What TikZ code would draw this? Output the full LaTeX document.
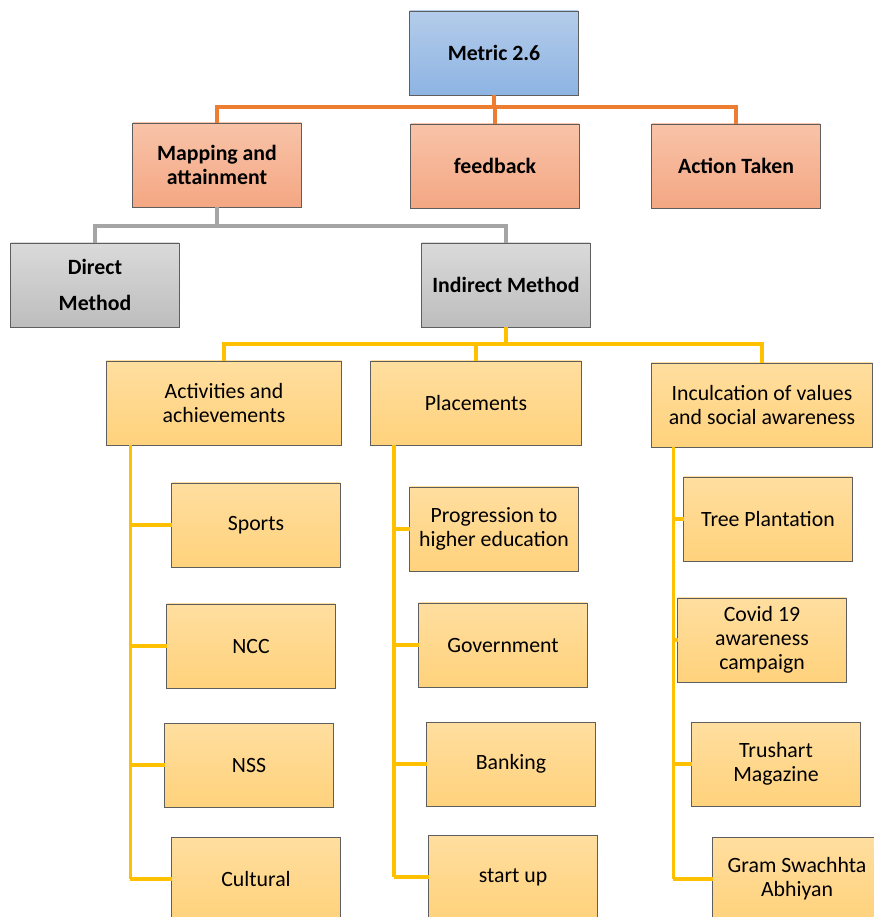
\documentclass[tikz,border=0pt]{standalone}
\usepackage{fontspec}
\setmainfont{Carlito}

\definecolor{boxline}{HTML}{5E5E5E}
\definecolor{bluetop}{HTML}{B4CCEA}
\definecolor{bluebot}{HTML}{8DB4E3}
\definecolor{salmontop}{HTML}{F8C3A8}
\definecolor{salmonbot}{HTML}{F4A783}
\definecolor{graytop}{HTML}{DADADA}
\definecolor{graybot}{HTML}{BDBDBD}
\definecolor{yellowtop}{HTML}{FFDE9F}
\definecolor{yellowbot}{HTML}{FFD27C}
\definecolor{orangeln}{HTML}{ED7D31}
\definecolor{grayln}{HTML}{A5A5A5}
\definecolor{yellowln}{HTML}{FFC000}

\tikzset{
  box/.style={draw=boxline, line width=0.7pt, minimum width=4.2cm, minimum height=2.1cm,
    inner sep=0pt, outer sep=0pt, align=center, font=\fontsize{15.5}{17}\selectfont},
  metricbox/.style={box, top color=bluetop, bottom color=bluebot, font=\fontsize{15.5}{17}\selectfont\bfseries},
  levelbox/.style={box, top color=salmontop, bottom color=salmonbot, font=\fontsize{15.5}{17}\selectfont\bfseries},
  methodbox/.style={box, top color=graytop, bottom color=graybot, font=\fontsize{15.5}{17}\selectfont\bfseries},
  itembox/.style={box, top color=yellowtop, bottom color=yellowbot},
  oline/.style={orangeln, line width=2.2pt},
  gline/.style={grayln, line width=2.2pt},
  yline/.style={yellowln, line width=2.2pt}
}

\begin{document}
\begin{tikzpicture}[x=0.025cm, y=-0.025cm]
    \clip (0,0) rectangle (874,917);

    % Top of the tree
    \node[metricbox] (metric) at (494,53) {Metric 2.6};
    \node[levelbox] (map) at (217,165) {Mapping and\\attainment};
    \node[levelbox] (feedback) at (495,166) {feedback};
    \node[levelbox] (action) at (736,166) {Action Taken};

    \node[methodbox] (direct) at (95,285) {Direct\\[9pt]Method};
    \node[methodbox] (indirect) at (506,285) {Indirect Method};

    % Three groups under the indirect method
    \node[itembox, minimum width=5.875cm] (act) at (224,403) {Activities and\\achievements};
    \node[itembox, minimum width=5.25cm] (place) at (476,403) {Placements};
    \node[itembox, minimum width=5.525cm] (incul) at (762,405) {Inculcation of values\\and social awareness};

    % Items of each group
    \foreach \name/\x/\y/\txt in {sports/256/525/Sports, ncc/251/646/NCC,
        nss/249/765/NSS, cultural/256/879/Cultural}
      \node[itembox] (\name) at (\x,\y) {\txt};

    \foreach \name/\x/\y/\txt in {progress/494/529/{Progression to\\higher education},
        govt/503/645/Government, banking/511/764/Banking, startup/513/877/start up}
      \node[itembox] (\name) at (\x,\y) {\txt};

    \foreach \name/\x/\y/\txt in {tree/768/519/Tree Plantation,
        covid/762/640/{Covid 19\\awareness\\campaign}, trushart/776/764/{Trushart\\Magazine},
        gram/797/879/{Gram Swachhta\\Abhiyan}}
      \node[itembox] (\name) at (\x,\y) {\txt};

    % Draw the connectors
    \draw[oline] (metric.south) -- ++(0,12) coordinate (otop) -| (map.north);
    \draw[oline] (otop) -| (feedback.north);
    \draw[oline] (otop) -| (action.north);

    \draw[gline] (map.south) -- ++(0,19) coordinate (gtop) -| (direct.north);
    \draw[gline] (gtop) -| (indirect.north);

    \draw[yline] (indirect.south) -- ++(0,17) coordinate (ytop) -| (act.north);
    \draw[yline] (ytop) -| (place.north);
    \draw[yline] (ytop) -| (incul.north);

    \path (act.south west) ++(24,0) coordinate (actstem);
    \path (place.south west) ++(23,0) coordinate (placestem);
    \path (incul.south west) ++(22,0) coordinate (inculstem);

    \draw[yline] (actstem) -- (actstem |- cultural.west);
    \draw[yline] (placestem) -- (placestem |- startup.west);
    \draw[yline] (inculstem) -- (inculstem |- gram.west);

    \foreach \name in {sports, ncc, nss, cultural}
      \draw[yline] (actstem |- \name.west) -- (\name.west);
    \foreach \name in {progress, govt, banking, startup}
      \draw[yline] (placestem |- \name.west) -- (\name.west);
    \foreach \name in {tree, covid, trushart, gram}
      \draw[yline] (inculstem |- \name.west) -- (\name.west);
\end{tikzpicture}
\end{document}
